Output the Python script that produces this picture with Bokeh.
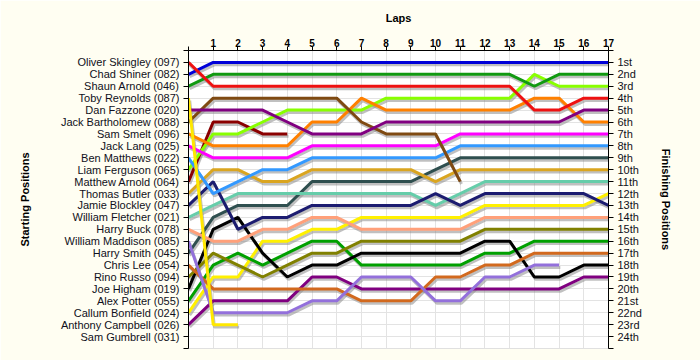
import numpy as np
from bokeh.plotting import figure
from bokeh.models import Range1d, LinearAxis, FixedTicker
from bokeh.embed import file_html
from bokeh.resources import INLINE

# ---------------- data ----------------
laps = list(range(0, 18))
lap_labels = [str(i) for i in range(1, 18)]

drivers = [
    "Oliver Skingley (097)", "Chad Shiner (082)", "Shaun Arnold (046)",
    "Toby Reynolds (087)", "Dan Fazzone (020)", "Jack Bartholomew (088)",
    "Sam Smelt (096)", "Jack Lang (025)", "Ben Matthews (022)",
    "Liam Ferguson (065)", "Matthew Arnold (064)", "Thomas Butler (033)",
    "Jamie Blockley (047)", "William Fletcher (021)", "Harry Buck (078)",
    "William Maddison (085)", "Harry Smith (045)", "Chris Lee (054)",
    "Rino Russo (094)", "Joe Higham (019)", "Alex Potter (055)",
    "Callum Bonfield (024)", "Anthony Campbell (026)", "Sam Gumbrell (031)",
]

finish_labels = ["1st", "2nd", "3rd"] + [f"{i}th" for i in range(4, 21)] + \
                ["21st", "22nd", "23rd", "24th"]

N = None
oliver_skingley   = [1, 3, 3, 3, 3, 3, 3, 3, 3, 3, 3, 3, 3, 3, 5, 5, 4, 4]
chad_shiner       = [2, 1, 1, 1, 1, 1, 1, 1, 1, 1, 1, 1, 1, 1, 1, 1, 1, 1]
shaun_arnold      = [3, 2, 2, 2, 2, 2, 2, 2, 2, 2, 2, 2, 2, 2, 3, 2, 2, 2]
toby_reynolds     = [4, 23, 23, N, N, N, N, N, N, N, N, N, N, N, N, N, N, N]
dan_fazzone       = [5, 5, 5, 5, 6, 7, 7, 7, 6, 6, 6, 6, 6, 6, 6, 6, 5, 5]
jack_bartholomew  = [6, 4, 4, 4, 4, 4, 4, 6, 7, 7, 7, 11, N, N, N, N, N, N]
sam_smelt         = [7, 8, 8, 8, 8, 6, 6, 4, 5, 5, 5, 5, 5, 5, 4, 4, 6, 6]
jack_lang         = [8, 9, 9, 9, 9, 8, 8, 8, 8, 8, 8, 7, 7, 7, 7, 7, 7, 7]
ben_matthews      = [9, 12, 11, 10, 10, 9, 9, 9, 9, 9, 9, 8, 8, 8, 8, 8, 8, 8]
liam_ferguson     = [10, 7, 7, 6, 5, 5, 5, 5, 4, 4, 4, 4, 4, 4, 2, 3, 3, 3]
matthew_arnold    = [11, 6, 6, 7, 7, N, N, N, N, N, N, N, N, N, N, N, N, N]
thomas_butler     = [12, 10, 10, 11, 11, 10, 10, 10, 10, 10, 11, 10, 10, 10, 10, 10, 10, 10]
jamie_blockley    = [13, 11, 15, 14, 14, 13, 13, 13, 13, 13, 12, 13, 12, 12, 12, 12, 12, 13]
william_fletcher  = [14, 13, 12, 12, 12, 12, 12, 12, 12, 12, 13, 12, 11, 11, 11, 11, 11, 11]
harry_buck        = [15, 16, 16, 15, 15, 14, 14, 15, 15, 15, 15, 15, 14, 14, 14, 14, 14, 14]
william_maddison  = [16, 22, 22, 22, 22, 21, 21, 19, 19, 19, 21, 21, 19, 19, 18, 18, N, N]
harry_smith       = [17, 14, 13, 13, 13, 11, 11, 11, 11, 11, 10, 9, 9, 9, 9, 9, 9, 9]
chris_lee         = [18, 20, 20, 20, 20, 20, 20, 21, 21, 21, 19, 19, 18, 18, 17, 17, 17, 17]
rino_russo        = [19, 17, 18, 19, 18, 17, 17, 16, 16, 16, 16, 16, 15, 15, 15, 15, 15, 15]
joe_higham        = [20, 15, 14, 17, 19, 18, 18, 17, 17, 17, 17, 17, 16, 16, 19, 19, 18, 18]
alex_potter       = [21, 18, 17, 18, 17, 16, 16, 18, 18, 18, 18, 18, 17, 17, 16, 16, 16, 16]
callum_bonfield   = [22, 19, 19, 16, 16, 15, 15, 14, 14, 14, 14, 14, 13, 13, 13, 13, 13, 12]
anthony_campbell  = [23, 21, 21, 21, 21, 19, 19, 20, 20, 20, 20, 20, 20, 20, 20, 20, 19, 19]
sam_gumbrell      = [N] * 18

positions = [
    oliver_skingley, chad_shiner, shaun_arnold, toby_reynolds, dan_fazzone,
    jack_bartholomew, sam_smelt, jack_lang, ben_matthews, liam_ferguson,
    matthew_arnold, thomas_butler, jamie_blockley, william_fletcher, harry_buck,
    william_maddison, harry_smith, chris_lee, rino_russo, joe_higham,
    alex_potter, callum_bonfield, anthony_campbell, sam_gumbrell,
]

colors = [
    "#EE1111", "#0000D8", "#119911", "#FFE800", "#800080", "#7F4A12",
    "#FF8000", "#FF00FF", "#3399FF", "#88FF00", "#8B0000", "#DAA520",
    "#1C1C70", "#66CDAA", "#FFA07A", "#9370DB", "#2F4F4F", "#D2691E",
    "#808000", "#000000", "#00A000", "#FFF000", "#800080", "#999999",
]

# ---------------- figure ----------------
FONT = "Liberation Sans"
n_pos = len(drivers)

p = figure(width=700, height=360,
           x_range=Range1d(0, len(laps) - 1), y_range=Range1d(n_pos + 1, 0),
           x_axis_location="above", y_axis_location="left",
           output_backend="svg", toolbar_location=None,
           min_border_left=188, min_border_right=92,
           min_border_top=50, min_border_bottom=12)
p.background_fill_color = "white"
p.border_fill_color = "#FFFEF2"
p.outline_line_color = "#E0E0E0"

# shadow ranges (shift a couple of pixels right/down)
ex, dy = 0.05, 0.2
p.extra_x_ranges = {"sx": Range1d(-ex, len(laps) - 1 - ex)}
p.extra_y_ranges = {"sy": Range1d(n_pos + 1 - dy, -dy)}

# grids
p.xgrid.ticker = FixedTicker(ticks=laps)
p.ygrid.ticker = FixedTicker(ticks=list(range(0, n_pos + 2)))
for g in (p.xgrid, p.ygrid):
    g.grid_line_color = "#E3E3E3"
    g.grid_line_width = 1

# top axis (laps)
xa = p.xaxis[0]
xa.ticker = FixedTicker(ticks=laps)
xa.major_label_overrides = {0: ""} | {i + 1: s for i, s in enumerate(lap_labels)}
xa.axis_label = "Laps"
xa.axis_label_text_font = FONT
xa.axis_label_text_font_style = "bold"
xa.axis_label_text_font_size = "11px"
xa.axis_label_text_color = "black"
xa.axis_label_standoff = 12
xa.major_label_text_font = FONT
xa.major_label_text_font_style = "bold"
xa.major_label_text_font_size = "10px"
xa.major_label_text_color = "black"
xa.major_label_standoff = 0
xa.major_tick_out = 4
xa.major_tick_in = 0
xa.minor_tick_line_color = None
xa.axis_line_color = "black"
xa.major_tick_line_color = "black"

# left axis (starting positions)
ya = p.yaxis[0]
ya.ticker = FixedTicker(ticks=list(range(0, n_pos + 2)))
ya.major_label_overrides = {0: "", n_pos + 1: ""} | {i + 1: d for i, d in enumerate(drivers)}
ya.axis_label = "Starting Positions"
ya.axis_label_standoff = 27

right = LinearAxis(ticker=FixedTicker(ticks=list(range(0, n_pos + 2))))
right.major_label_overrides = {0: "", n_pos + 1: ""} | {i + 1: s for i, s in enumerate(finish_labels)}
right.axis_label = "Finishing Positions"
right.axis_label_standoff = 15
p.add_layout(right, "right")

for ax in (ya, right):
    ax.axis_label_text_font = FONT
    ax.axis_label_text_font_style = "bold"
    ax.axis_label_text_font_size = "11px"
    ax.axis_label_text_color = "black"
    ax.major_label_text_font = FONT
    ax.major_label_text_font_size = "11px"
    ax.major_label_text_color = "#101020"
    ax.major_label_standoff = 4
    ax.major_tick_out = 5
    ax.major_tick_in = 0
    ax.minor_tick_line_color = None
    ax.axis_line_color = "black"
    ax.major_tick_line_color = "black"

# shadows
for pos in positions:
    y = np.array([np.nan if v is None else v for v in pos], dtype=float)
    if np.all(np.isnan(y)):
        continue
    p.line(laps, y, x_range_name="sx", y_range_name="sy",
           line_color="#8C8C8C", line_alpha=0.55, line_width=3)

# lines (draw back to front)
for pos, col in reversed(list(zip(positions, colors))):
    y = np.array([np.nan if v is None else v for v in pos], dtype=float)
    if np.all(np.isnan(y)):
        continue
    p.line(laps, y, line_color=col, line_width=3)

open("out.html", "w").write(file_html(p, INLINE))
